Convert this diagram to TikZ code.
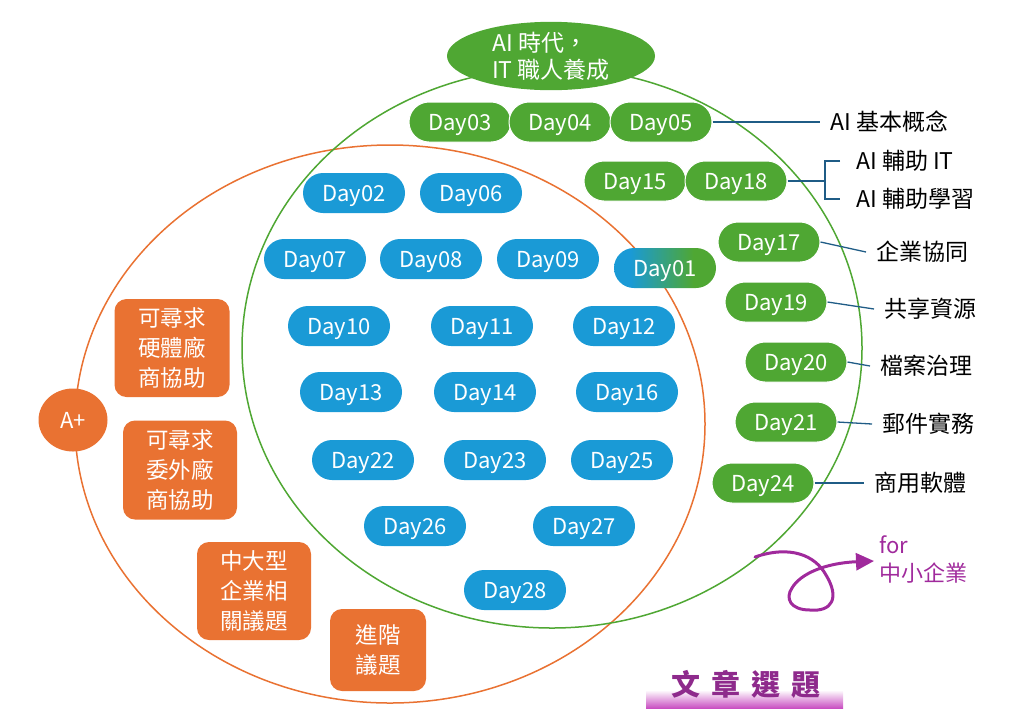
\documentclass[tikz,border=0pt]{standalone}
\usepackage{fontspec}
\setmainfont{Noto Sans CJK TC}
\usetikzlibrary{arrows.meta,calc,shapes.geometric}
\definecolor{dgreen}{HTML}{4FA733}
\definecolor{dblue}{HTML}{1A9AD6}
\definecolor{dorange}{HTML}{E97232}
\definecolor{lblue}{HTML}{1F5C86}
\definecolor{dpurple}{HTML}{A02A9C}
\definecolor{tpurple}{HTML}{8E2A8C}
\definecolor{barpink}{HTML}{C94FC2}
\pgfdeclarehorizontalshading{dayone}{100bp}{color(0bp)=(dblue); color(33bp)=(dblue); color(64bp)=(dgreen); color(100bp)=(dgreen)}
\tikzset{
  pill/.style={rounded corners=20pt, minimum width=102pt, minimum height=40pt, inner sep=0pt, text=white, font=\fontsize{22}{26}\selectfont, text height=16pt, text depth=0pt},
  gp/.style={pill, fill=dgreen, draw=white, line width=1pt},
  bp/.style={pill, fill=dblue},
  obox/.style={rounded corners=12pt, fill=dorange, text=white, align=center, inner sep=0pt, font=\fontsize{22.5}{30}\selectfont},
  rlab/.style={anchor=west, inner sep=0pt, inner xsep=10pt, font=\fontsize{23}{28}\selectfont, text=black, text height=20pt, text depth=3pt},
  conn/.style={draw=lblue, line width=1.3pt},
}
\begin{document}
\begin{tikzpicture}[x=1pt,y=-1pt]
\useasboundingbox (0,0) rectangle (1024,724);
% big ellipses
\draw[dorange, line width=1.5pt] (390,424) ellipse [x radius=315, y radius=279];
\draw[dgreen, line width=1.5pt] (552,348) ellipse [x radius=310, y radius=280];
% top ellipse
\node[ellipse, fill=dgreen, minimum width=208pt, minimum height=64pt, inner sep=0pt, text=white, align=left, font=\fontsize{23}{27}\selectfont] (top) at (551,56) {AI 時代，\\IT 職人養成};
% green pills
\node[gp] (d03) at (460,122) {Day03};
\node[gp] (d04) at (560,122) {Day04};
\node[gp] (d05) at (661,122) {Day05};
\node[gp] (d15) at (635,181) {Day15};
\node[gp] (d18) at (736,181) {Day18};
\node[gp] (d17) at (769,242) {Day17};
\node[gp] (d19) at (776,302) {Day19};
\node[gp] (d20) at (796,362) {Day20};
\node[gp] (d21) at (786,422) {Day21};
\node[gp] (d24) at (763,483) {Day24};
% blue pills
\node[bp] (d02) at (354,193) {Day02};
\node[bp] (d06) at (471,193) {Day06};
\node[bp] (d07) at (315,259) {Day07};
\node[bp] (d08) at (431,259) {Day08};
\node[bp] (d09) at (548,259) {Day09};
\node[pill, shading=dayone] (d01) at (665,268) {Day01};
\node[bp] (d10) at (339,326) {Day10};
\node[bp] (d11) at (482,326) {Day11};
\node[bp] (d12) at (624,326) {Day12};
\node[bp] (d13) at (351,392) {Day13};
\node[bp] (d14) at (485,392) {Day14};
\node[bp] (d16) at (627,392) {Day16};
\node[bp] (d22) at (363,460) {Day22};
\node[bp] (d23) at (495,460) {Day23};
\node[bp] (d25) at (622,460) {Day25};
\node[bp] (d26) at (415,526) {Day26};
\node[bp] (d27) at (584,526) {Day27};
\node[bp] (d28) at (515,590) {Day28};
% right labels
\node[rlab] (l05) at (820,122) {AI 基本概念};
\node[rlab, inner xsep=0pt] (aiit) at (856,161) {AI 輔助 IT};
\node[rlab, inner xsep=0pt] (aist) at (856,199) {AI 輔助學習};
\node[rlab] (l17) at (866,252) {企業協同};
\node[rlab] (l19) at (874,309) {共享資源};
\node[rlab] (l20) at (870,366) {檔案治理};
\node[rlab] (l21) at (872,424) {郵件實務};
\node[rlab] (l24) at (864,483) {商用軟體};
% connectors
\draw[conn] (d05.east) -- (l05.west);
\coordinate (br) at (825,181);
\draw[conn] (d18.east) -- (br);
\draw[conn] ($(aiit.west)+(-16,0)$) -- ($(aiit.west)+(-31,0)$) |- ($(aist.west)+(-16,0)$);
\draw[conn] (d17.east) -- (l17.west);
\draw[conn] (d19.east) -- (l19.west);
\draw[conn] (d20.east) -- (l20.west);
\draw[conn] (d21.east) -- (l21.west);
\draw[conn] (d24.east) -- (l24.west);
% orange items
\node[ellipse, fill=dorange, minimum width=69pt, minimum height=63pt, inner sep=0pt, text=white, font=\fontsize{22}{26}\selectfont] (ap) at (73,420) {A+};
\node[obox, minimum width=115pt, minimum height=98pt] (o1) at (172,348) {可尋求\\硬體廠\\商協助};
\node[obox, minimum width=114pt, minimum height=99pt] (o2) at (180,470) {可尋求\\委外廠\\商協助};
\node[obox, minimum width=114pt, minimum height=98pt] (o3) at (254,591) {中大型\\企業相\\關議題};
\node[obox, minimum width=96pt, minimum height=82pt] (o4) at (378,650) {進階\\議題};
% purple curl arrow
\node[anchor=north west, align=left, inner sep=0pt, text=dpurple, font=\fontsize{22}{28}\selectfont] (sme) at (879,535) {for\\中小企業};
\coordinate (cs) at (755,557);
\coordinate (ce) at (874,561);
\draw[dpurple, line width=3pt, line cap=round, -{Triangle[length=18pt,width=17pt]}]
  (cs) .. controls (790,545) and (815,555) .. (826,575)
  .. controls (840,598) and (832,612) .. (810,610)
  .. controls (790,610) and (785,598) .. (792,588)
  .. controls (800,574) and (825,563) .. (ce);
% title
\shade[top color=white, bottom color=barpink] (646,690) rectangle (843,708);
\node[inner sep=0pt, text=tpurple, font=\fontsize{29}{30}\selectfont\bfseries] (title) at (746,684) {文\hspace{11pt}章\hspace{11pt}選\hspace{11pt}題};
\end{tikzpicture}
\end{document}
